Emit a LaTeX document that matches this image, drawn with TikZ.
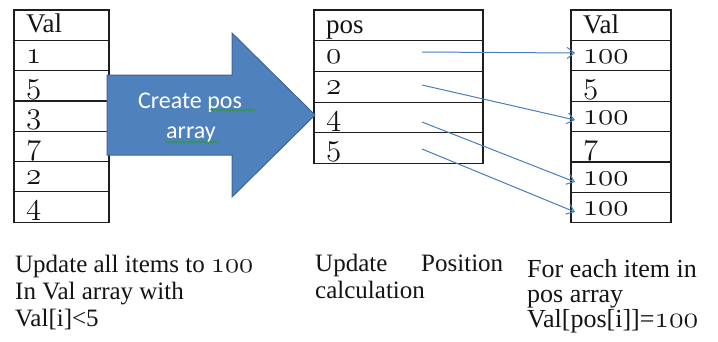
\documentclass[tikz,border=0pt]{standalone}
\usepackage{fix-cm}
\usepackage{fontspec}
\setmainfont{Liberation Serif}
\newfontfamily\uifont{Carlito}
\usetikzlibrary{arrows.meta,decorations.pathmorphing}

\definecolor{shapefill}{HTML}{4F81BD}
\definecolor{shapeedge}{HTML}{3A6699}
\definecolor{linkblue}{HTML}{4A7EBB}
\definecolor{gridline}{HTML}{1E1E1E}
\definecolor{inktext}{HTML}{141414}
\definecolor{spellgreen}{HTML}{2E9B2E}

% old-style figures taken from the math italic font
\newcommand\osf[1]{\scalebox{1.15}{\usefont{OML}{cmm}{m}{it}#1}}

\tikzset{
  cell/.style={draw=gridline, line width=1.2pt, anchor=north west,
    inner xsep=12pt, inner ysep=0pt, outer sep=0pt,
    text height=20.8pt, text depth=5.2pt, align=left,
    text=inktext, font=\fontsize{27}{30}\selectfont},
  note/.style={anchor=base west, align=left, inner sep=0pt, text=inktext},
  link/.style={draw=linkblue, line width=1pt,
    -{Straight Barb[length=7pt,width=11pt,line width=1pt]}},
  squiggle/.style={draw=spellgreen, line width=0.8pt,
    decorate, decoration={snake, amplitude=1pt, segment length=4pt}}
}

\begin{document}
\begin{tikzpicture}[x=1pt,y=-1pt]
\useasboundingbox (0,0) rectangle (718,341);
\fill[white] (0,0) rectangle (718,341);

% input array
\foreach \t [count=\i from 0] in {Val,\osf{1},\osf{5},\osf{3},\osf{7},\osf{2},\osf{4}}
  \node[cell, text width=71pt, minimum height=30.3pt] (L\i) at (14,10+30.3*\i) {\t};

% position array
\foreach \t [count=\i from 0] in {pos,\osf{0},\osf{2},\osf{4},\osf{5}}
  \node[cell, text width=145pt, minimum height=30.7pt] (P\i) at (314,10+30.7*\i) {\t};

% updated array
\foreach \t [count=\i from 0] in {Val,\osf{100},\osf{5},\osf{100},\osf{7},\osf{100},\osf{100}}
  \node[cell, text width=76pt, minimum height=30.4pt] (R\i) at (571,10+30.4*\i) {\t};

% block arrow
\path[fill=shapefill, draw=shapeedge, line width=1pt, line join=miter]
  (107,75) -- (232,75) -- (232,33) -- (315,115) -- (232,197) -- (232,155)
  -- (107,155) -- cycle;
\node[inner sep=0pt, anchor=base, text=white, font=\uifont\fontsize{24}{30}\selectfont]
  (cap1) at (190,108) {Create pos};
\node[inner sep=0pt, anchor=base, text=white, font=\uifont\fontsize{24}{30}\selectfont]
  (cap2) at (191,138) {array};
\path[squiggle] (210,110) -- (255,110);
\path[squiggle] (165,142) -- (219,142);

% index links
\coordinate (s0) at (422,52);
\coordinate (s1) at (422,85);
\coordinate (s2) at (422,122);
\coordinate (s3) at (422,149);
\coordinate (t0) at (575,53);
\coordinate (t1) at (575,120);
\coordinate (t2) at (575,182);
\coordinate (t3) at (575,212);
\foreach \k in {0,1,2,3}
  \draw[link] (s\k) -- (t\k);

% captions (anchored on the baseline of their last line)
\node[note, font=\fontsize{25}{27}\selectfont] (n1) at (15,326)
  {Update all items to \osf{100}\\In Val array with\\Val[i]<5};
\node[note, font=\fontsize{25}{27}\selectfont] (n2) at (315,298)
  {\makebox[188pt][s]{Update Position}\\calculation};
\node[note, font=\fontsize{26}{25}\selectfont] (n3) at (527,327)
  {For each item in\\pos array\\Val[pos[i]]=\osf{100}};
\end{tikzpicture}
\end{document}
